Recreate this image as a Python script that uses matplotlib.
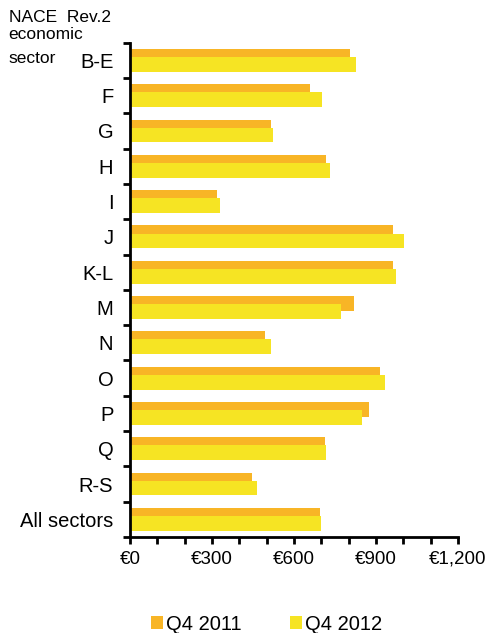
import numpy as np
import matplotlib
matplotlib.use("Agg")
import matplotlib.pyplot as plt
from matplotlib.ticker import FuncFormatter, MultipleLocator

plt.rcParams["font.family"] = ["Liberation Sans", "DejaVu Sans"]

# Data
sectors = ["B-E", "F", "G", "H", "I", "J", "K-L", "M", "N", "O", "P", "Q", "R-S", "All sectors"]
q4_2011 = [805, 659, 515, 716, 318, 963, 963, 818, 494, 916, 875, 715, 445, 694]
q4_2012 = [827, 702, 523, 732, 329, 1001, 973, 773, 517, 932, 849, 718, 463, 697]
series_labels = ["Q4 2011", "Q4 2012"]

orange = "#F8B526"
yellow = "#F6E423"

fig = plt.figure(figsize=(4.86, 6.33), dpi=100)
ax = fig.add_axes([0.2675, 0.1517, 0.675, 0.7808])

y = np.arange(len(sectors))
h = 0.42
off = 0.115
b1 = ax.barh(y - off, q4_2011, height=h, color=orange, label=series_labels[0])
b2 = ax.barh(y + off, q4_2012, height=h, color=yellow, label=series_labels[1])

ax.set_ylim(len(sectors) - 0.5, -0.5)
ax.set_xlim(0, 1200)

# category labels at centres, tick marks at boundaries
ax.set_yticks(y)
ax.set_yticklabels(sectors, fontsize=14.5)
ax.tick_params(axis="y", which="major", length=0, pad=12)
ax.set_yticks(np.arange(len(sectors) + 1) - 0.5, minor=True)
ax.tick_params(axis="y", which="minor", length=5, width=2, direction="out")

ax.xaxis.set_major_locator(MultipleLocator(300))
ax.xaxis.set_minor_locator(MultipleLocator(100))
ax.xaxis.set_major_formatter(FuncFormatter(lambda v, p: "\u20ac{:,.0f}".format(v)))
ax.tick_params(axis="x", which="both", length=5, width=2, direction="out", labelsize=13.5, pad=5)

for s in ["top", "right"]:
    ax.spines[s].set_visible(False)
for s in ["left", "bottom"]:
    ax.spines[s].set_linewidth(2)

fig.text(0.018, 0.972, "NACE  Rev.2", fontsize=12.5, va="center", ha="left")
fig.text(0.018, 0.945, "economic", fontsize=12.5, va="center", ha="left")
fig.text(0.018, 0.908, "sector", fontsize=12.5, va="center", ha="left")

fig.legend(handles=[b1, b2], labels=series_labels, loc="center",
           bbox_to_anchor=(0.548, 0.014), ncol=2, frameon=False, fontsize=14.5,
           handlelength=0.6, handleheight=0.6, handletextpad=0.15,
           columnspacing=2.4, borderpad=0.1)

fig.savefig("out.png", dpi=100)
